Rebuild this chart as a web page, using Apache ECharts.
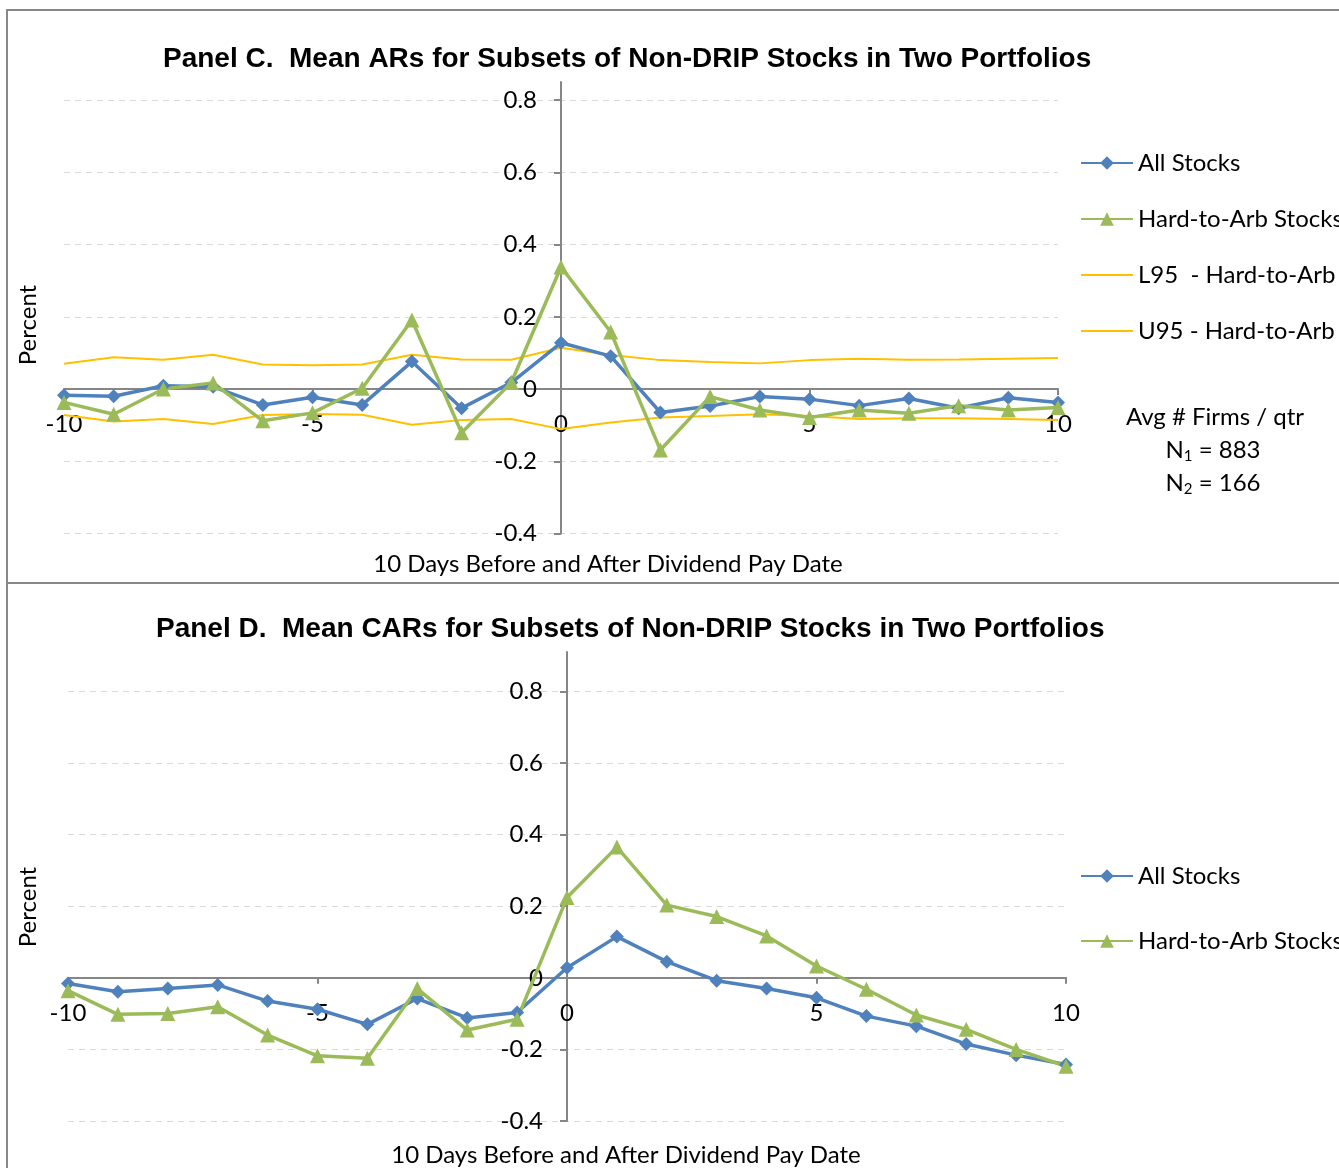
<!DOCTYPE html>
<html>
<head>
<meta charset="utf-8">
<script src="https://cdn.jsdelivr.net/npm/echarts@6/dist/echarts.min.js"></script>
<style>
  html, body { margin: 0; padding: 0; background: #fff; }
  #chart { width: 1339px; height: 1168px; }
</style>
</head>
<body>
<div id="chart"></div>
<script>
// Event days relative to the dividend pay date
const days = [-10, -9, -8, -7, -6, -5, -4, -3, -2, -1, 0, 1, 2, 3, 4, 5, 6, 7, 8, 9, 10];

// Panel C: mean abnormal returns (percent)
const arAll  = [-0.017, -0.020, 0.009, 0.006, -0.044, -0.023, -0.044, 0.076, -0.053, 0.018, 0.128, 0.091, -0.065, -0.047, -0.021, -0.028, -0.046, -0.026, -0.053, -0.024, -0.037];
const arHard = [-0.037, -0.070, 0.000, 0.017, -0.088, -0.066, 0.002, 0.191, -0.121, 0.018, 0.338, 0.158, -0.169, -0.021, -0.058, -0.079, -0.058, -0.067, -0.046, -0.058, -0.051];
const l95Hard = [-0.072, -0.090, -0.083, -0.097, -0.072, -0.069, -0.071, -0.099, -0.086, -0.083, -0.111, -0.093, -0.079, -0.075, -0.070, -0.075, -0.083, -0.081, -0.081, -0.083, -0.086];
const u95Hard = [0.070, 0.088, 0.081, 0.095, 0.068, 0.066, 0.068, 0.095, 0.082, 0.081, 0.114, 0.094, 0.080, 0.075, 0.071, 0.080, 0.084, 0.081, 0.082, 0.084, 0.086];

// Panel D: mean cumulative abnormal returns (percent)
const carAll  = [-0.016, -0.039, -0.030, -0.020, -0.065, -0.088, -0.130, -0.058, -0.112, -0.097, 0.028, 0.115, 0.045, -0.008, -0.030, -0.056, -0.107, -0.135, -0.185, -0.216, -0.242];
const carHard = [-0.036, -0.102, -0.100, -0.081, -0.160, -0.218, -0.225, -0.030, -0.146, -0.116, 0.224, 0.365, 0.203, 0.171, 0.117, 0.033, -0.032, -0.104, -0.144, -0.200, -0.247];

// Axis tick values
const yTicks = [-0.4, -0.2, 0, 0.2, 0.4, 0.6, 0.8];

const titleC = 'Panel C.  Mean ARs for Subsets of Non-DRIP Stocks in Two Portfolios';
const titleD = 'Panel D.  Mean CARs for Subsets of Non-DRIP Stocks in Two Portfolios';
const xName = '10 Days Before and After Dividend Pay Date';
const yName = 'Percent';
const names = ['All Stocks', 'Hard-to-Arb Stocks', 'L95  - Hard-to-Arb', 'U95 - Hard-to-Arb'];

const BLUE = '#4F81BD', GREEN = '#9BBB59', GOLD = '#FFC000', AXIS = '#868686';
const FONT = 'Lato';
const FS = 24;

// Plot areas and y-axis max per panel
const panels = [
  { left: 64, top: 82, width: 994, height: 451.5, yMax: 0.85 },
  { left: 68, top: 652, width: 998, height: 469, yMax: 0.91 }
];
const yMin = -0.4, xMin = -10, xMax = 10;

const pairs = vals => days.map((d, i) => [d, vals[i]]);

// Axes cross at the origin: shift each axis from its grid edge to the zero line.
function xAxisFor(i) {
  const p = panels[i];
  const zeroFromBottom = p.height * (0 - yMin) / (p.yMax - yMin);
  return {
    type: 'value', gridIndex: i, min: xMin, max: xMax, interval: 5,
    position: 'bottom', offset: -zeroFromBottom,
    axisLine: { show: true, onZero: false, lineStyle: { color: AXIS, width: 2 } },
    axisTick: { show: true, length: 6, lineStyle: { color: AXIS, width: 2 } },
    axisLabel: { color: '#000', fontFamily: FONT, fontSize: FS, margin: 23 },
    splitLine: { show: false }
  };
}
function yAxisFor(i) {
  const p = panels[i];
  const zeroFromLeft = p.width * (0 - xMin) / (xMax - xMin);
  return {
    type: 'value', gridIndex: i, min: yMin, max: p.yMax, interval: 0.2,
    position: 'left', offset: -zeroFromLeft,
    axisLine: { show: true, onZero: false, lineStyle: { color: AXIS, width: 2 } },
    axisTick: { show: true, length: 7, customValues: yTicks, lineStyle: { color: AXIS, width: 2 } },
    axisLabel: { color: '#000', fontFamily: FONT, fontSize: FS, margin: 24, customValues: yTicks },
    splitLine: { show: true, lineStyle: { color: '#d9d9d9', type: [6, 5], width: 1 } }
  };
}
function lineSeries(name, data, color, idx, symbol, size, width) {
  return {
    name, type: 'line', xAxisIndex: idx, yAxisIndex: idx, data: pairs(data),
    symbol, symbolSize: size, showSymbol: symbol !== 'none',
    lineStyle: { color, width }, itemStyle: { color },
    animation: false, z: symbol === 'none' ? 2 : 3
  };
}
const legendText = { color: '#000', fontFamily: FONT, fontSize: FS, lineHeight: 26 };
const legendItems = names.map((n, k) => k < 2 ? { name: n } : { name: n, itemStyle: { opacity: 0 } });
const plainText = (text, x, y, extra) => Object.assign({
  type: 'text', x, y, silent: true,
  style: { text, fontFamily: FONT, fontSize: FS, fill: '#000', align: 'center', verticalAlign: 'middle' }
}, extra || {});
const subText = (sym, sub, rest, x, y) => ({
  type: 'text', x, y, silent: true,
  style: { text: '{n|' + sym + '}{s|' + sub + '}{n|' + rest + '}', align: 'center', verticalAlign: 'middle',
    rich: { n: { fontFamily: FONT, fontSize: FS, fill: '#000' },
            s: { fontFamily: FONT, fontSize: 15, fill: '#000', padding: [12, 0, 0, 0] } } }
});

const chart = echarts.init(document.getElementById('chart'), null, { renderer: 'canvas' });
chart.setOption({
  backgroundColor: '#fff',
  animation: false,
  title: [
    { text: titleC, left: 163, top: 45, padding: 0,
      textStyle: { fontFamily: 'Liberation Sans', fontWeight: 'bold', fontSize: 28, color: '#000' } },
    { text: titleD, left: 156, top: 615, padding: 0,
      textStyle: { fontFamily: 'Liberation Sans', fontWeight: 'bold', fontSize: 28, color: '#000' } }
  ],
  grid: panels.map(p => ({ left: p.left, top: p.top, width: p.width, height: p.height })),
  xAxis: [xAxisFor(0), xAxisFor(1)],
  yAxis: [yAxisFor(0), yAxisFor(1)],
  legend: [
    { orient: 'vertical', left: 1080, top: 150, itemWidth: 52, itemHeight: 17, itemGap: 30,
      data: legendItems, textStyle: legendText, padding: 0 },
    { orient: 'vertical', left: 1080, top: 863, itemWidth: 52, itemHeight: 17, itemGap: 39,
      data: legendItems.slice(0, 2), textStyle: legendText, padding: 0 }
  ],
  series: [
    lineSeries(names[2], l95Hard, GOLD, 0, 'none', 0, 2),
    lineSeries(names[3], u95Hard, GOLD, 0, 'none', 0, 2),
    lineSeries(names[0], arAll, BLUE, 0, 'diamond', 14, 3.5),
    lineSeries(names[1], arHard, GREEN, 0, 'triangle', 15, 3.5),
    lineSeries(names[0], carAll, BLUE, 1, 'diamond', 14, 3.5),
    lineSeries(names[1], carHard, GREEN, 1, 'triangle', 15, 3.5)
  ],
  graphic: [
    { type: 'rect', shape: { x: 7, y: 10, width: 1345, height: 573 }, silent: true,
      style: { fill: null, stroke: '#888', lineWidth: 2 } },
    { type: 'rect', shape: { x: 7, y: 583, width: 1345, height: 600 }, silent: true,
      style: { fill: null, stroke: '#888', lineWidth: 2 } },
    plainText(yName, 28, 325, { rotation: Math.PI / 2 }),
    plainText(yName, 28, 907, { rotation: Math.PI / 2 }),
    plainText(xName, 608, 564),
    plainText(xName, 626, 1155),
    plainText('Avg # Firms / qtr', 1215, 417),
    subText('N', '1', ' = 883', 1213, 450),
    subText('N', '2', ' = 166', 1213, 483)
  ]
});
</script>
</body>
</html>
